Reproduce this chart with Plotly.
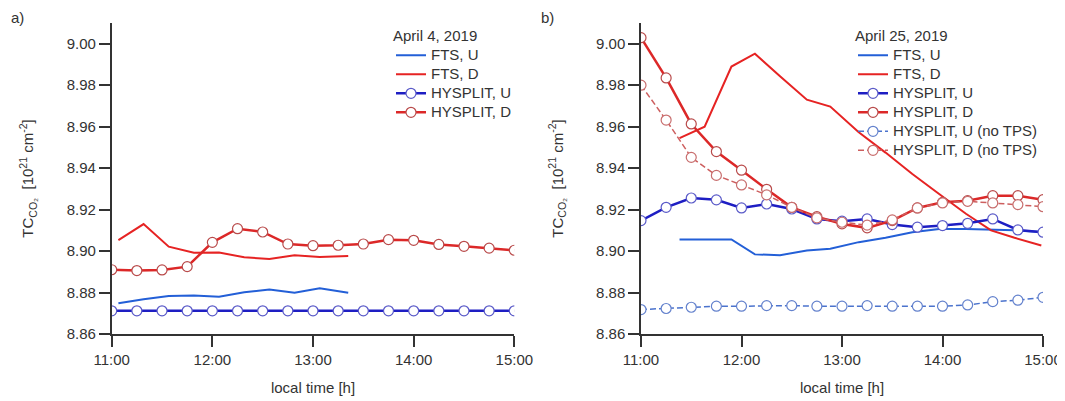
import plotly.graph_objects as go

# ---------------- data ----------------
hysplit_times = ["11:00", "11:15", "11:30", "11:45", "12:00", "12:15", "12:30", "12:45", "13:00",
                 "13:15", "13:30", "13:45", "14:00", "14:15", "14:30", "14:45", "15:00"]

# Panel a) April 4, 2019
a_fts_times = ["11:04", "11:19", "11:34", "11:49", "12:04", "12:19", "12:34", "12:49", "13:04", "13:21"]
a_fts_u = [8.8748, 8.8768, 8.8783, 8.8786, 8.8780, 8.8801, 8.8815, 8.8799, 8.8821, 8.8799]
a_fts_d = [8.9053, 8.9130, 8.9021, 8.8992, 8.8993, 8.8970, 8.8962, 8.8980, 8.8971, 8.8976]
a_hys_u = [8.8712, 8.8712, 8.8712, 8.8712, 8.8712, 8.8712, 8.8712, 8.8712, 8.8712,
           8.8712, 8.8712, 8.8712, 8.8712, 8.8712, 8.8712, 8.8712, 8.8712]
a_hys_d = [8.8910, 8.8906, 8.8909, 8.8925, 8.9042, 8.9108, 8.9092, 8.9034, 8.9026,
           8.9028, 8.9034, 8.9055, 8.9052, 8.9032, 8.9023, 8.9014, 8.9004]

# Panel b) April 25, 2019
b_fts_times = ["11:23", "11:38", "11:54", "12:08", "12:23", "12:39", "12:53", "13:10", "13:26",
               "13:42", "13:58", "14:14", "14:29", "14:43", "14:59"]
b_fts_u = [8.9056, 8.9056, 8.9056, 8.8984, 8.8980, 8.9003, 8.9011, 8.9043, 8.9064,
           8.9091, 8.9106, 8.9107, 8.9103, 8.9100, 8.9092]
b_fts_d = [8.9545, 8.9600, 8.9890, 8.9952, 8.9843, 8.9730, 8.9697, 8.9573, 8.9475,
           8.9372, 8.9275, 8.9180, 8.9100, 8.9064, 8.9027]
b_hys_u = [8.9147, 8.9211, 8.9256, 8.9247, 8.9208, 8.9227, 8.9203, 8.9155, 8.9144,
           8.9155, 8.9128, 8.9115, 8.9123, 8.9134, 8.9155, 8.9102, 8.9091]
b_hys_d = [9.0029, 8.9835, 8.9613, 8.9480, 8.9390, 8.9298, 8.9211, 8.9166, 8.9131,
           8.9112, 8.9147, 8.9208, 8.9235, 8.9243, 8.9267, 8.9267, 8.9248]
b_hys_u_notps = [8.8718, 8.8723, 8.8729, 8.8734, 8.8734, 8.8737, 8.8737, 8.8734, 8.8734,
                 8.8737, 8.8734, 8.8734, 8.8734, 8.8740, 8.8756, 8.8763, 8.8777]
b_hys_d_notps = [8.9800, 8.9632, 8.9452, 8.9365, 8.9319, 8.9271, 8.9211, 8.9160, 8.9139,
                 8.9125, 8.9150, 8.9208, 8.9232, 8.9240, 8.9232, 8.9224, 8.9214]

x_tick_vals = [11, 12, 13, 14, 15]
x_tick_text = ["11:00", "12:00", "13:00", "14:00", "15:00"]
y_tick_vals = [8.86, 8.88, 8.90, 8.92, 8.94, 8.96, 8.98, 9.00]


def to_hours(labels):
    out = []
    for s in labels:
        h, m = s.split(":")
        out.append(int(h) + int(m) / 60.0)
    return out


# ---------------- styles ----------------
C_FTS_U = "rgb(35,95,215)"
C_FTS_D = "rgb(230,35,35)"
C_HYS_U = "rgb(30,30,195)"
C_HYS_D = "rgb(220,40,40)"
C_HYS_U_N = "rgb(75,115,205)"
C_HYS_D_N = "rgb(205,95,95)"

FONT = "Arial, 'Liberation Sans', sans-serif"
TXT = "#333333"
LEG_TXT = 15


def big(s):
    return "<span style='font-size:%dpx'>%s</span>" % (LEG_TXT, s)


fig = go.Figure()

ht = to_hours(hysplit_times)


def add_fts(x, y, color, name, xa, ya, legend):
    fig.add_trace(go.Scatter(x=x, y=y, mode="lines", name=big(name),
                             line=dict(color=color, width=2),
                             xaxis=xa, yaxis=ya, legend=legend))


def add_hys(x, y, color, mcolor, name, xa, ya, legend, dash="solid", width=2.5):
    fig.add_trace(go.Scatter(x=x, y=y, mode="lines+markers", name=big(name),
                             line=dict(color=color, width=width, dash=dash),
                             marker=dict(symbol="circle", size=10, color="white",
                                         line=dict(color=mcolor, width=1.2)),
                             xaxis=xa, yaxis=ya, legend=legend))


# panel a
add_fts(to_hours(a_fts_times), a_fts_u, C_FTS_U, "FTS, U", "x", "y", "legend")
add_fts(to_hours(a_fts_times), a_fts_d, C_FTS_D, "FTS, D", "x", "y", "legend")
add_hys(ht, a_hys_u, C_HYS_U, "rgb(90,90,200)", "HYSPLIT, U", "x", "y", "legend")
add_hys(ht, a_hys_d, C_HYS_D, "rgb(185,75,75)", "HYSPLIT, D", "x", "y", "legend")

# panel b
add_fts(to_hours(b_fts_times), b_fts_u, C_FTS_U, "FTS, U", "x2", "y2", "legend2")
add_fts(to_hours(b_fts_times), b_fts_d, C_FTS_D, "FTS, D", "x2", "y2", "legend2")
add_hys(ht, b_hys_u, C_HYS_U, "rgb(90,90,200)", "HYSPLIT, U", "x2", "y2", "legend2")
add_hys(ht, b_hys_d, C_HYS_D, "rgb(185,75,75)", "HYSPLIT, D", "x2", "y2", "legend2")
add_hys(ht, b_hys_u_notps, C_HYS_U_N, "rgb(100,130,205)", "HYSPLIT, U (no TPS)", "x2", "y2",
        "legend2", dash="6px,3px", width=1.5)
add_hys(ht, b_hys_d_notps, C_HYS_D_N, "rgb(200,110,110)", "HYSPLIT, D (no TPS)", "x2", "y2",
        "legend2", dash="6px,3px", width=1.5)

# the page body adds an 8 px offset; the figure is sized so it ends at the window edge
OFF = 8
W, H = 1065 - OFF, 401 - OFF
ML, MR = 0, 0
MT = 22.5 - OFF
MB = 401 - 334.3
PH = H - MT - MB

xax = dict(range=[11, 15], tickvals=x_tick_vals, ticktext=x_tick_text, automargin=False,
           showline=True, linecolor=TXT, linewidth=1.5, ticks="outside", ticklen=11,
           tickwidth=1.5, tickcolor=TXT, showgrid=False, zeroline=False,
           tickfont=dict(size=15, color=TXT, family=FONT),
           title=dict(text="local time [h]", font=dict(size=15, color=TXT, family=FONT), standoff=16))
yax = dict(range=[8.86, 9.01], tickvals=y_tick_vals, tickformat=".2f", automargin=False,
           showline=True, linecolor=TXT, linewidth=1.5, ticks="outside", ticklen=11,
           tickwidth=1.5, tickcolor=TXT, showgrid=False, zeroline=False,
           tickfont=dict(size=15, color=TXT, family=FONT),
           title=dict(text="TC<sub>CO₂</sub>  [10<sup>21</sup> cm<sup>-2</sup>]",
                      font=dict(size=15, color=TXT, family=FONT), standoff=29))


def px2x(px):
    return (px - OFF - ML) / (W - ML - MR)


def px2y(py):
    return 1 - (py - OFF - MT) / PH


legend_common = dict(bgcolor="rgba(0,0,0,0)", borderwidth=0,
                     font=dict(size=11, color=TXT, family=FONT),
                     xanchor="left", yanchor="top", itemwidth=30,
                     tracegroupgap=0, itemclick=False)

fig.update_layout(
    template="none",
    width=W, height=H,
    margin=dict(l=ML, r=MR, t=MT, b=MB, autoexpand=False),
    paper_bgcolor="white", plot_bgcolor="white",
    font=dict(family=FONT, color=TXT, size=15),
    xaxis=dict(xax, domain=[px2x(111.7), px2x(514.3)], anchor="y"),
    yaxis=dict(yax, domain=[0, 1], anchor="x"),
    xaxis2=dict(xax, domain=[px2x(641.0), px2x(1043.0)], anchor="y2"),
    yaxis2=dict(yax, domain=[0, 1], anchor="x2"),
    legend=dict(legend_common, x=px2x(391), y=px2y(26),
                title=dict(text=big("April 4, 2019"), font=dict(size=11, color=TXT, family=FONT))),
    legend2=dict(legend_common, x=px2x(853), y=px2y(26),
                 title=dict(text=big("April 25, 2019"), font=dict(size=11, color=TXT, family=FONT))),
    showlegend=True,
    annotations=[
        dict(text="a)", x=px2x(9), y=px2y(17), xref="paper", yref="paper", showarrow=False,
             xanchor="left", yanchor="middle", font=dict(size=15, color=TXT, family=FONT)),
        dict(text="b)", x=px2x(539), y=px2y(17), xref="paper", yref="paper", showarrow=False,
             xanchor="left", yanchor="middle", font=dict(size=15, color=TXT, family=FONT)),
    ],
)

fig.write_html("out.html")
